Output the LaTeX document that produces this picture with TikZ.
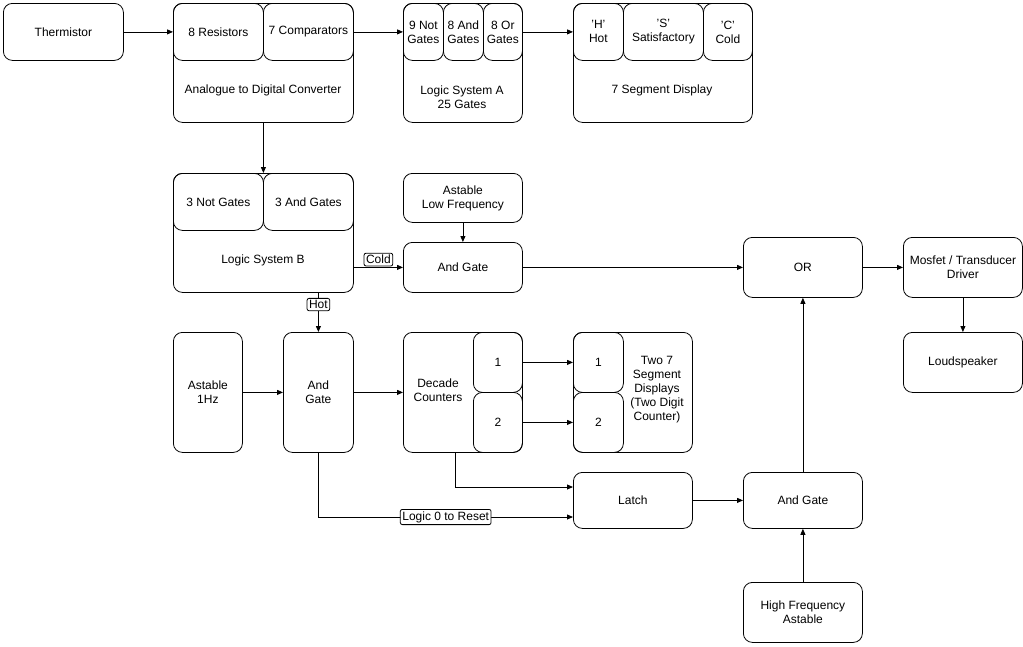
\documentclass[tikz,border=0pt]{standalone}
\usepackage{fontspec}
\setmainfont{Liberation Sans}
\usetikzlibrary{arrows.meta}
\newcommand{\blk}[5]{\node[box, minimum width=#3pt, minimum height=#4pt] (#1) at #2 {#5};}

\begin{document}
\begin{tikzpicture}[x=1pt, y=-1pt, line width=0.8pt,
    box/.style={draw, rectangle, rounded corners=9pt, anchor=north west, inner sep=1pt, align=center, font=\fontsize{12}{14}\selectfont},
    txt/.style={align=center, font=\fontsize{12}{14}\selectfont},
    tag/.style={draw, fill=white, rounded corners=2pt, inner sep=2pt, font=\fontsize{12}{14}\selectfont},
    arr/.style={-{Triangle[length=6pt, width=5pt]}}]
    \useasboundingbox (0,0) rectangle (1023,646);

    % Top row
    \blk{therm}{(3,3)}{120}{57}{Thermistor}
    \blk{adc}{(173,3)}{180}{119}{}
    \blk{res}{(173,3)}{90}{57}{8 Resistors}
    \blk{comp}{(263,3)}{90}{57}{7 Comparators}
    \node[txt] at (263,90) {Analogue to Digital Converter};

    \blk{lsa}{(403,3)}{119}{119}{}
    \blk{nota}{(403,3)}{40}{57}{9 Not\\Gates}
    \blk{anda}{(443,3)}{40}{57}{8 And\\Gates}
    \blk{ora}{(483,3)}{39}{57}{8 Or\\Gates}
    \node[txt] at (462,97) {Logic System A\\25 Gates};

    \blk{seg}{(573,3)}{179}{119}{}
    \blk{hot}{(573,3)}{50}{57}{'H'\\Hot}
    \blk{sat}{(623,3)}{80}{57}{'S'\\Satisfactory}
    \blk{cold}{(703,3)}{49}{57}{'C'\\Cold}
    \node[txt] at (662,90) {7 Segment Display};

    % Second row
    \blk{lsb}{(173,173)}{180}{119}{}
    \blk{notb}{(173,173)}{90}{57}{3 Not Gates}
    \blk{andb}{(263,173)}{90}{57}{3 And Gates}
    \node[txt] at (263,260) {Logic System B};

    \blk{lowf}{(403,173)}{119}{49}{Astable\\Low Frequency}
    \blk{andc}{(403,242)}{119}{50}{And Gate}
    \blk{or}{(743,237)}{119}{60}{OR}
    \blk{drv}{(903,237)}{119}{60}{Mosfet / Transducer\\Driver}
    \blk{spk}{(903,332)}{119}{60}{Loudspeaker}

    % Third row
    \blk{onehz}{(173,332)}{69}{120}{Astable\\1Hz}
    \blk{andh}{(283,332)}{70}{120}{And\\Gate}
    \blk{dec}{(403,332)}{119}{120}{}
    \node[txt] at (438,390) {Decade\\Counters};
    \blk{dec1}{(473,332)}{49}{60}{1}
    \blk{dec2}{(473,392)}{49}{60}{2}
    \blk{two}{(573,332)}{119}{120}{}
    \node[txt] at (657,390) {Two 7\\Segment\\Displays\\(Two Digit\\Counter)};
    \blk{seg1}{(573,332)}{50}{60}{1}
    \blk{seg2}{(573,392)}{50}{60}{2}

    % Bottom row
    \blk{latch}{(573,472)}{119}{56}{Latch}
    \blk{andl}{(743,472)}{119}{56}{And Gate}
    \blk{highf}{(743,582)}{119}{60}{High Frequency\\Astable}

    % Connectors
    \draw[arr] (therm) -- (adc.west |- therm);
    \draw[arr] (comp) -- (lsa.west |- comp);
    \draw[arr] (ora) -- (seg.west |- ora);
    \draw[arr] (adc.south) -- (lsb.north);
    \draw[arr] (lowf) -- (andc);
    \draw[arr] (lsb.east |- andc) -- node[tag, above, yshift=1pt] {Cold} (andc);
    \draw[arr] (andc) -- (or.west |- andc);
    \draw[arr] (or) -- (drv);
    \draw[arr] (drv) -- (spk);
    \draw[arr] (andh.north |- lsb.south) -- node[tag, pos=0.3] {Hot} (andh);
    \draw[arr] (onehz) -- (andh);
    \draw[arr] (andh) -- (dec);
    \draw[arr] (dec1) -- (seg1);
    \draw[arr] (dec2) -- (seg2);
    \draw[arr] (455,452) |- (latch.west |- 0,487);
    \draw[arr] (andh.south) |- node[tag, pos=0.75] {Logic 0 to Reset} (latch.west |- 0,517);
    \draw[arr] (latch) -- (andl);
    \draw[arr] (andl) -- (or);
    \draw[arr] (highf) -- (andl);
\end{tikzpicture}
\end{document}
